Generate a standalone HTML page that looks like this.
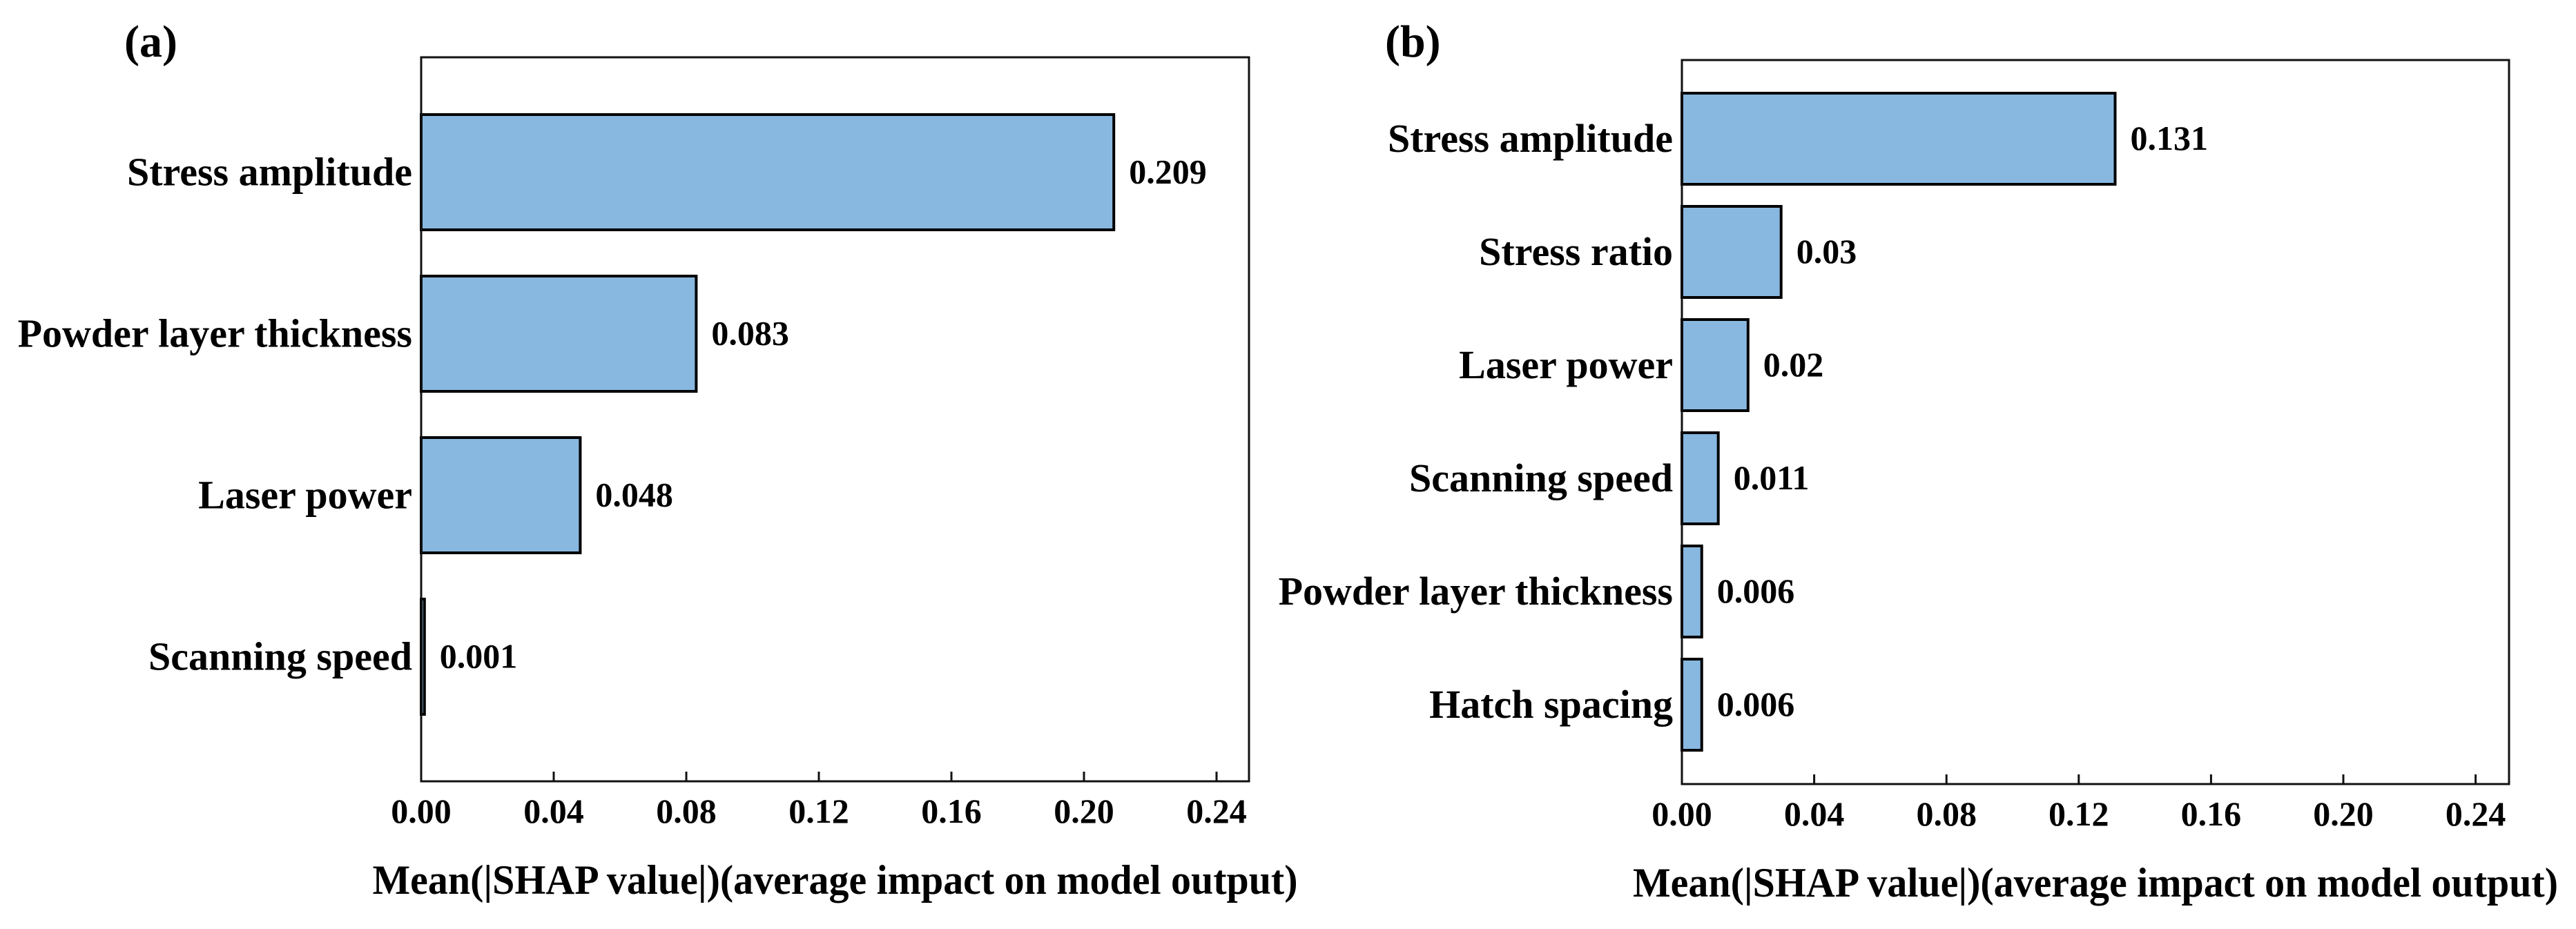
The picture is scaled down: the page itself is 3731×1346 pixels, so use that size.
<!DOCTYPE html>
<html><head><meta charset="utf-8">
<style>
html,body{margin:0;padding:0;background:#fff;}
svg{display:block;}
svg text{font-family:"Liberation Serif","Times New Roman",serif;font-weight:bold;}
</style></head>
<body>
<svg id="fig" width="3731" height="1346" viewBox="0 0 3731 1346" xmlns="http://www.w3.org/2000/svg" font-family="Liberation Serif, serif" font-weight="bold"></svg>
<script>
const catsA = ["Stress amplitude","Powder layer thickness","Laser power","Scanning speed"];
const valsA = [0.209,0.083,0.048,0.001];
const labelsA = ["0.209","0.083","0.048","0.001"];
const catsB = ["Stress amplitude","Stress ratio","Laser power","Scanning speed","Powder layer thickness","Hatch spacing"];
const valsB = [0.131,0.03,0.02,0.011,0.006,0.006];
const labelsB = ["0.131","0.03","0.02","0.011","0.006","0.006"];
const tickVals = [0,0.04,0.08,0.12,0.16,0.20,0.24];
const tickLabels = ["0.00","0.04","0.08","0.12","0.16","0.20","0.24"];

const NS="http://www.w3.org/2000/svg";
const svg=document.getElementById('fig');
function mk(tag,attrs,parent){const e=document.createElementNS(NS,tag);for(const k in attrs)e.setAttribute(k,attrs[k]);if(tag==='text'){e.setAttribute('font-family','Liberation Serif, serif');e.setAttribute('font-weight','bold');}(parent||svg).appendChild(e);return e;}

function panel(cfg,cats,vals,labels){
  const g=mk('g',{});
  
  
  const L=cfg.left,R=cfg.right,T=cfg.top,B=cfg.bottom;
  const xs=v=>L+v*cfg.ppu;
  const n=cats.length;
  const ys=i=>cfg.c0+i*cfg.pitch;
  const pl=mk('text',{x:cfg.letterX,y:82,'font-size':66},g);
  pl.textContent=cfg.letter;
  
  
  for(let i=0;i<n;i++){
    const yc=ys(i);
    const w=Math.max(xs(vals[i])-L,1);
    const r=mk('rect',{x:L,y:yc-cfg.bh/2,width:w,height:cfg.bh,fill:'#88b8e0',stroke:'#000','stroke-width':4},g);
    
    
    const t=mk('text',{x:xs(vals[i])+22,y:yc+16,'font-size':50},g);
    t.textContent=labels[i];
    
    
    const c=mk('text',{x:L-13,y:yc+19,'font-size':58,'text-anchor':'end'},g);
    c.textContent=cats[i];
    
    
  }
  const f=mk('rect',{x:L,y:T,width:R-L,height:B-T,fill:'none',stroke:'#111','stroke-width':3},g);
  
  
  for(let k=0;k<tickVals.length;k++){
    const x=xs(tickVals[k]);
    const tl=mk('line',{x1:x,x2:x,y1:B,y2:B-14,stroke:'#111','stroke-width':3},g);
    
    
    const tt=mk('text',{x:x,y:B+60,'font-size':50,'text-anchor':'middle'},g);
    tt.textContent=tickLabels[k];
    
    
  }
  const xl=mk('text',{x:(L+R)/2,y:B+163,'font-size':60,'text-anchor':'middle',textLength:1340,lengthAdjust:'spacingAndGlyphs'},g);
  xl.textContent='Mean(|SHAP value|)(average impact on model output)';
  
  
}

panel({name:'panel-a',letter:'(a)',letterX:180,left:610,right:1809,top:83,bottom:1132,ppu:4800,c0:249.5,pitch:234,bh:167},catsA,valsA,labelsA);
panel({name:'panel-b',letter:'(b)',letterX:2006,left:2436,right:3634,top:87,bottom:1136,ppu:4790,c0:201,pitch:164,bh:132},catsB,valsB,labelsB);
</script>
</body></html>
